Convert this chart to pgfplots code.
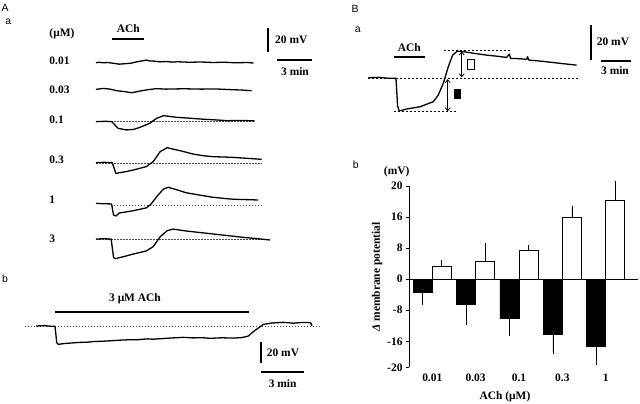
\documentclass[border=0pt]{standalone}
\usepackage{pgfplots}
\pgfplotsset{compat=1.18}
\usepackage{fontspec}
\setmainfont{Liberation Serif}
\newfontfamily\panelfont{Liberation Sans}
\usetikzlibrary{arrows.meta}

\pgfplotsset{
  trace/.style={black, line width=1.3bp, line join=round, mark=none},
  dline/.style={black!70, line width=0.5bp, dash pattern=on 1.5bp off 1.5bp, mark=none},
}
\tikzset{
  lab/.style={inner sep=0pt, font=\fontsize{11.5}{13}\selectfont\bfseries},
  pan/.style={inner sep=0pt, font=\panelfont\fontsize{10.5}{12}\selectfont},
  sbar/.style={line width=2.2bp},
}

\begin{document}
\begin{tikzpicture}[x=1bp,y=-1bp]
\useasboundingbox (0,0) rectangle (640,403);
\coordinate (pAa) at (96,260);
\coordinate (pAb) at (21.7,347.6);
\coordinate (pBa) at (368.3,112.7);
\coordinate (pBb) at (409,367.3);

% ---------------- Panel A a ----------------
\node[pan] at (5,8.3) {A};
\node[pan] at (8.3,21.7) {a};
\node[lab, anchor=west] at (49.3,34) {(μM)};
\node[lab, anchor=west] at (49.3,61) {0.01};
\node[lab, anchor=west] at (49.3,89.3) {0.03};
\node[lab, anchor=west] at (49.3,119.3) {0.1};
\node[lab, anchor=west] at (49.3,160) {0.3};
\node[lab, anchor=west] at (49.3,200) {1};
\node[lab, anchor=west] at (49.3,238.3) {3};
\node[lab] at (128.3,29) {ACh};
\draw[sbar] (112,39) -- (144,39);
\draw[sbar] (268,28) -- (268,52);
\node[lab, anchor=west] at (275,40) {20 mV};
\draw[sbar] (277,60) -- (312,60);
\node[lab] at (295,72) {3 min};

\begin{axis}[at={(pAa)}, anchor=south west, scale only axis,
  width=175bp, height=210bp, xmin=0, xmax=15, ymin=0, ymax=175,
  axis lines=none, clip=false]
% 0.01 uM
\addplot[trace] table[x=t, y expr=\thisrow{v}+164.4] {
t v
0 0
0.3 0.4
0.6 -0.1
1.0 0.2
1.5 -0.5
2.0 -1.2
2.5 -0.8
3.0 -0.4
3.5 0.8
4.0 1.6
4.3 2.2
4.6 1.5
5.0 1.3
5.5 0.7
6.0 1.0
6.5 0.5
7.0 0.8
8.0 0.4
9.0 0.6
10.0 0.2
11.0 0.4
12.0 -0.1
13.0 0.2
13.5 -0.3
};
% 0.03 uM
\addplot[trace] table[x=t, y expr=\thisrow{v}+142.2] {
t v
0 0
0.63 0.8
1.2 0.2
1.77 -1.1
2.4 -1.8
3.05 -2.8
3.77 -1.4
4.5 -0.2
5.2 0.6
6.0 0.2
7.5 0.5
9.0 0.2
10.34 0.3
11.5 -0.2
12.5 -0.6
13.34 -1.1
};
% 0.1 uM
\addplot[dline] coordinates {(0,115.3) (13.6,115.3)};
\addplot[trace] table[x=t, y expr=\thisrow{v}+115.3] {
t v
0 0
0.8 0.3
1.34 0
1.9 -5.6
2.6 -6.9
3.2 -6.5
3.7 -5.0
4.6 -1.4
5.2 2.8
5.8 5.0
6.9 3.6
8.0 2.9
8.9 2.2
10.0 1.6
11.3 0.8
12.5 1.0
13.6 0.6
};
% 0.3 uM
\addplot[dline] coordinates {(0,80.5) (14.2,80.5)};
\addplot[trace] table[x=t, y expr=\thisrow{v}+81.1] {
t v
0 0
0.7 0.3
1.4 0
1.7 -8.9
2.0 -8.4
2.6 -7.4
3.2 -6.1
4.3 -3.3
4.9 0.8
5.5 9.2
6.1 12.5
6.7 11.1
7.5 9.3
8.3 7.2
9.2 5.8
10.0 5.0
11.0 4.7
11.8 4.4
13.0 3.6
14.2 2.8
};
% 1 uM
\addplot[dline] coordinates {(1.5,45.9) (14.3,45.9)};
\addplot[trace] table[x=t, y expr=\thisrow{v}+46.7] {
t v
0 0.5
0.7 0.2
1.34 0
1.5 -9.2
1.7 -10.0
2.0 -7.5
2.6 -6.6
3.2 -5.6
4.3 -3.3
4.7 -0.3
5.3 7.2
5.8 12.5
6.2 13.9
7.0 11.6
7.7 9.4
9.0 7.2
10.0 5.6
11.0 4.6
11.8 3.9
13.0 3.6
13.9 3.3
};
% 3 uM
\addplot[dline] coordinates {(0,17.2) (14.9,17.2)};
\addplot[trace] table[x=t, y expr=\thisrow{v}+17.5] {
t v
0 0
0.7 0.2
1.3 0
1.5 -15.3
1.65 -16.4
2.4 -14.6
3.2 -12.5
4.3 -10.0
4.9 -6.4
5.5 1.9
6.1 6.9
6.6 8.3
7.7 6.7
9.0 5.3
10.3 3.9
11.5 2.6
12.6 1.4
13.8 0.3
14.9 -0.8
};
\end{axis}

% ---------------- Panel A b ----------------
\node[pan] at (5,278.3) {b};
\node[lab] at (135,298.3) {3 μM ACh};
\draw[sbar] (55,311.7) -- (249,311.7);
\draw[sbar] (261,342) -- (261,363);
\node[lab, anchor=west] at (266.7,352.7) {20 mV};
\draw[sbar] (261,372.3) -- (304,372.3);
\node[lab] at (282.7,383.3) {3 min};

\begin{axis}[at={(pAb)}, anchor=south west, scale only axis,
  width=300.3bp, height=27bp, xmin=-1, xmax=20, ymin=-20, ymax=5,
  axis lines=none, clip=false]
\addplot[dline] coordinates {(-0.77,-0.3) (19.86,-0.3)};
\addplot[trace] table[x=t, y=v] {
t v
0 0
0.6 0.4
1.0 -0.2
1.33 -0.3
1.45 -15.4
1.56 -17.0
2.0 -16.2
2.6 -15.6
3.0 -15.2
3.6 -15.0
4.0 -14.4
4.8 -14.0
5.2 -13.7
6.0 -13.0
6.4 -12.8
7.2 -12.6
7.8 -11.9
8.2 -12.2
9.0 -11.5
9.6 -11.0
10.3 -10.5
11.0 -11.0
11.6 -10.8
12.2 -11.4
13.0 -10.9
13.8 -11.2
14.4 -10.7
14.85 -9.3
15.2 -5.2
15.9 1.5
16.5 2.8
17.3 3.4
18.0 2.6
18.6 3.3
19.2 3.1
19.3 0.3
};
\end{axis}

% ---------------- Panel B a ----------------
\node[pan] at (355,9.3) {B};
\node[pan] at (357.7,29.3) {a};
\node[lab] at (409.3,47.7) {ACh};
\draw[sbar] (394,56.7) -- (425.3,56.7);
\draw[sbar] (590.7,25) -- (590.7,60);
\node[lab, anchor=west] at (596.7,41.7) {20 mV};
\draw[sbar] (601,61) -- (630.7,61);
\node[lab] at (615,70.7) {3 min};

\begin{axis}[at={(pBa)}, anchor=south west, scale only axis,
  width=210bp, height=63bp, xmin=0, xmax=21, ymin=-20, ymax=16,
  axis lines=none, clip=false]
\addplot[dline, black, line width=0.6bp, dash pattern=on 2bp off 2bp] coordinates {(0,-0.2) (21,-0.2)};
\addplot[dline, black, line width=0.6bp, dash pattern=on 2bp off 2bp] coordinates {(7.6,15.4) (14.2,15.4)};
\addplot[dline, black, line width=0.6bp, dash pattern=on 2bp off 2bp] coordinates {(2.6,-19.4) (8.9,-19.4)};
\addplot[trace] table[x=t, y=v] {
t v
0 0
1.0 0.2
2.0 -0.3
2.77 -0.4
2.93 -16.2
3.1 -19.0
3.83 -17.9
5.17 -16.6
6.5 -13.7
7.0 -9.9
7.5 -3.2
8.0 6.3
8.43 12.9
8.9 15.2
9.5 14.9
10.5 14.0
11.83 12.9
13.0 12.2
13.83 11.6
14.1 13.5
14.23 11.0
15.0 10.9
15.83 10.5
15.93 12.0
16.03 10.1
17.0 9.6
17.83 9.1
19.5 8.0
20.83 7.2
};
\draw[{Straight Barb[length=3bp,width=5bp]}-{Straight Barb[length=3bp,width=5bp]}, line width=0.8bp]
  (axis cs:9.34,15.0) -- (axis cs:9.34,0.2);
\draw[{Straight Barb[length=3bp,width=5bp]}-{Straight Barb[length=3bp,width=5bp]}, line width=0.8bp]
  (axis cs:7.94,-0.8) -- (axis cs:7.94,-19.2);
\draw[line width=0.6bp, fill=white] (axis cs:9.87,10.7) rectangle (axis cs:10.57,5.0);
\fill[black] (axis cs:8.57,-6.5) rectangle (axis cs:9.27,-12.2);
\end{axis}

% ---------------- Panel B b ----------------
\node[pan] at (355.7,165) {b};
\node[lab] at (396.7,171.7) {(mV)};
\node[lab, rotate=90] at (377,277) {\textit{Δ} membrane potential};
\node[lab] at (505,397) {ACh (μM)};

\begin{axis}[at={(pBb)}, anchor=south west, scale only axis,
  width=229bp, height=181.3bp,
  xmin=-0.537, xmax=4.745, ymin=-22.7, ymax=24,
  axis lines*=left, x axis line style={draw=none},
  axis line style={line width=0.8bp},
  xtick={0,1,2,3,4}, xticklabels={0.01,0.03,0.1,0.3,1},
  xtick style={draw=none},
  ytick={-22.7,-16,-8,0,8,16,24}, yticklabels={-20,-16,-8,0,8,16,20},
  ytick style={line width=0.8bp, black},
  ytick align=outside, major tick length=3bp,
  tick label style={font=\fontsize{11.5}{13}\selectfont\bfseries},
  ybar=0pt, bar width=19bp, clip=false]
\addplot[fill=black, draw=black, line width=0.6bp,
  error bars/.cd, y dir=minus, y explicit, error mark=-,
  error mark options={mark size=2.5bp, line width=0.7bp, black},
  error bar style={line width=0.7bp, black}]
  table[x=x, y=y, y error minus=e] {
x y e
0 -3.4 2.5
1 -6.5 4.7
2 -10.2 3.8
3 -14.2 4.5
4 -17.2 4.2
};
\addplot[fill=white, draw=black, line width=0.8bp,
  error bars/.cd, y dir=plus, y explicit, error mark=-,
  error mark options={mark size=2.5bp, line width=0.7bp, black},
  error bar style={line width=0.7bp, black}]
  table[x=x, y=y, y error plus=e] {
x y e
0 3.4 0.9
1 4.7 3.9
2 7.5 0.6
3 15.8 2.4
4 20.4 4.3
};
\draw[line width=0.8bp] (axis cs:-0.537,0) -- (axis cs:4.745,0);
\end{axis}
\end{tikzpicture}
\end{document}
